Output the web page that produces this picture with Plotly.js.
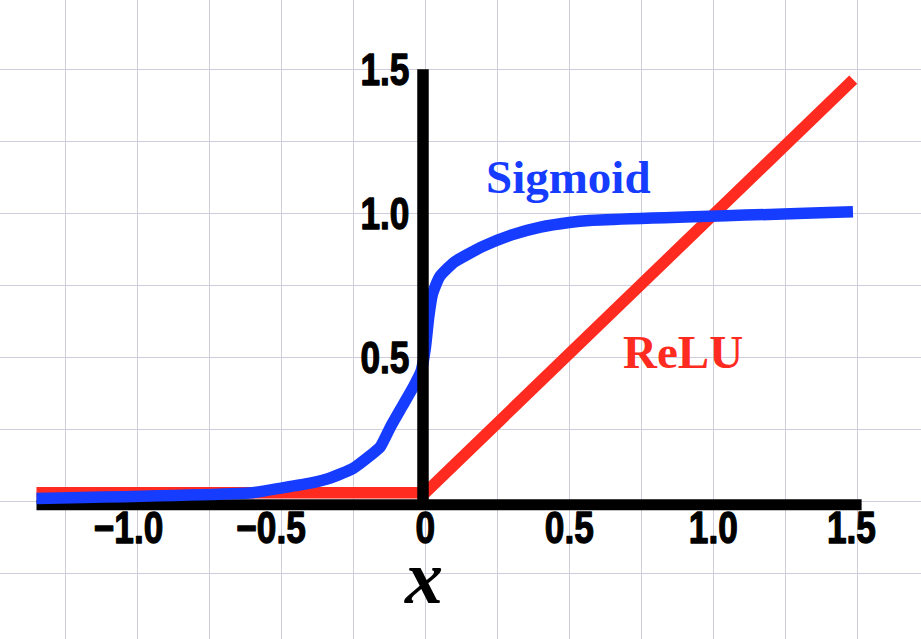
<!DOCTYPE html>
<html>
<head>
<meta charset="utf-8">
<script src="https://cdn.plot.ly/plotly-3.0.1.min.js"></script>
<style>html,body{margin:0;padding:0;background:#fff;}#chart{width:921px;height:639px;}</style>
</head>
<body>
<div id="chart"></div>
<script>
// Data
const sigmoidX = [-1.35, -0.6, -0.5, -0.4, -0.33, -0.25, -0.19, -0.157, -0.12, -0.08, -0.04, -0.015, 0, 0.012, 0.025, 0.05, 0.1, 0.2, 0.3, 0.4, 0.5, 0.57, 1.485];
const sigmoidY = [0.010, 0.030, 0.046, 0.063, 0.081, 0.115, 0.160, 0.188, 0.260, 0.33, 0.40, 0.45, 0.53, 0.64, 0.72, 0.78, 0.83, 0.885, 0.925, 0.952, 0.968, 0.975, 1.005];
const reluX = [-1.35, 0, 1.486];
const reluY = [0.03, 0.03, 1.464];
const xTickVals = [-1, -0.5, 0, 0.5, 1, 1.5];
// trailing fixed-width spaces reproduce the slight leftward set of some labels in the original
const xTickText = ['\u22121.0\u2002', '\u22120.5\u2002\u200A', '0', '0.5', '1.0', '1.5\u2004'];
const yTickVals = [0.5, 1, 1.5];
const yTickText = ['0.5', '1.0', '1.5'];
const xAxisSpan = [-1.35, 1.515];
const yAxisSpan = [-0.03, 1.5];

const BLUE = '#163cff';
const RED = '#ff2b20';
const GRID = 'rgb(205,205,220)';
const tickFont = {family: '"Liberation Sans", Arial, sans-serif', size: 44, color: '#000', weight: 'bold'};
const labelFont = {family: '"Liberation Serif", "Times New Roman", serif', size: 47, weight: 'bold'};

const traces = [
  {x: reluX, y: reluY, mode: 'lines', line: {color: RED, width: 11.5}, hoverinfo: 'skip', showlegend: false},
  {x: sigmoidX, y: sigmoidY, mode: 'lines', line: {color: BLUE, width: 11.5, shape: 'spline', smoothing: 0.5}, hoverinfo: 'skip', showlegend: false}
];

const layout = {
  width: 921, height: 639,
  margin: {l: 0, r: 0, t: 0, b: 0, pad: 0},
  paper_bgcolor: '#fff', plot_bgcolor: '#fff',
  showlegend: false,
  xaxis: {
    range: [-1.4767, 1.7212], anchor: 'free', position: 0.2202,
    tickvals: xTickVals, ticktext: xTickText, tickfont: tickFont,
    ticks: '', ticklabelstandoff: 0,
    showgrid: true, gridcolor: GRID, gridwidth: 1,
    minor: {dtick: 0.25, tick0: 0, showgrid: true, gridcolor: GRID, gridwidth: 1},
    zeroline: false, showline: false, fixedrange: true
  },
  yaxis: {
    range: [-0.4781, 1.7406], anchor: 'free', position: 0.4618,
    tickvals: yTickVals, ticktext: yTickText, tickfont: tickFont,
    ticks: '', ticklabelstandoff: 16,
    showgrid: true, gridcolor: GRID, gridwidth: 1,
    minor: {dtick: 0.25, tick0: 0, showgrid: true, gridcolor: GRID, gridwidth: 1},
    zeroline: false, showline: false, fixedrange: true
  },
  shapes: [
    {type: 'line', xref: 'x', yref: 'y', x0: xAxisSpan[0], x1: xAxisSpan[1], y0: -0.012, y1: -0.012,
     line: {color: '#000', width: 11}, layer: 'between'},
    {type: 'line', xref: 'x', yref: 'y', x0: -0.008, x1: -0.008, y0: yAxisSpan[0], y1: yAxisSpan[1],
     line: {color: '#000', width: 11.5}, layer: 'above'}
  ],
  annotations: [
    {text: 'Sigmoid', x: 0.496, y: 1.126, xref: 'x', yref: 'y', showarrow: false,
     xanchor: 'center', yanchor: 'middle', font: Object.assign({}, labelFont, {color: BLUE})},
    {text: 'ReLU', x: 0.894, y: 0.519, xref: 'x', yref: 'y', showarrow: false,
     xanchor: 'center', yanchor: 'middle', font: Object.assign({}, labelFont, {color: RED})},
    {text: '<i>x</i>', x: -0.007, y: -0.263, xref: 'x', yref: 'y', showarrow: false,
     xanchor: 'center', yanchor: 'middle', font: {family: '"Liberation Serif", "Times New Roman", serif', size: 76, weight: 'bold', color: '#000'}}
  ]
};

function condenseTicks() {
  const s = 0.8;
  document.querySelectorAll('#chart .xtick text, #chart .ytick text').forEach(function (t) {
    const bb = t.getBBox();
    const isY = t.closest('.ytick') !== null;
    const ox = isY ? bb.x + bb.width : bb.x + bb.width / 2;
    const prev = t.getAttribute('transform') || '';
    t.setAttribute('transform', prev + ' translate(' + ox + ',0) scale(' + s + ',1) translate(' + (-ox) + ',0)');
    t.style.stroke = '#000';
    t.style.strokeWidth = '1.3px';
    t.style.strokeLinejoin = 'round';
  });
}

Plotly.newPlot('chart', traces, layout, {staticPlot: true, displayModeBar: false}).then(condenseTicks);
</script>
</body>
</html>
